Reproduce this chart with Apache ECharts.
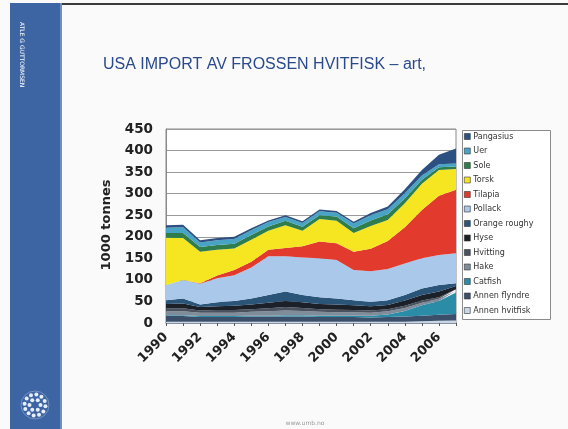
<!DOCTYPE html>
<html>
<head>
<meta charset="utf-8">
<script src="https://cdn.jsdelivr.net/npm/echarts@6/dist/echarts.min.js"></script>
<style>
  html, body { margin: 0; padding: 0; background: #fafafa; }
  #chart { width: 568px; height: 429px; }
</style>
</head>
<body>
<div id="chart"></div>
<script>
// US imports of frozen whitefish by species, 1000 tonnes
const years = ['1990','1991','1992','1993','1994','1995','1996','1997','1998',
               '1999','2000','2001','2002','2003','2004','2005','2006','2007'];

// stacked bottom to top
const annenHvitfisk = [3,3,3,3,3,3,3,3,3,3,3,3,3,3,3,4,5,6];
const annenFlyndre  = [13,13,11,11,11,12,12,12,12,11,11,11,10,11,12,13,14,15];
const catfish       = [2,2,2,2,2,2,2,3,3,3,3,3,4,6,13,24,32,50];
const hake          = [9,9,8,8,8,9,10,11,10,9,8,8,7,7,7,6,5,4];
const hvitting      = [7,7,5,6,6,6,7,8,7,6,6,5,5,5,5,5,4,3];
const hyse          = [10,11,8,9,10,11,13,14,13,12,12,11,10,10,12,13,13,8];
const orangeRoughy  = [9,12,6,9,11,14,18,22,17,16,14,12,10,11,13,15,15,6];
const pollack       = [35,43,48,56,60,72,90,82,87,90,89,70,71,72,73,70,70,70];
const tilapia       = [0,0,1,6,12,13,15,19,26,39,39,42,52,65,84,112,137,147];
const torsk         = [110,97,73,60,50,51,44,53,36,52,52,44,53,49,56,61,60,48];
const sole          = [11,12,11,11,11,11,10,10,9,9,10,11,13,13,11,9,6,6];
const uer           = [12,13,11,11,11,11,10,9,9,9,9,11,12,12,12,10,7,7];
const pangasius     = [6,6,5,5,5,5,4,4,4,4,4,4,5,6,9,13,22,35];

const yTicks = [0, 50, 100, 150, 200, 250, 300, 350, 400, 450];

const layers = [
  { name: 'Annen hvitfisk', data: annenHvitfisk, color: '#c9d6e6' },
  { name: 'Annen flyndre',  data: annenFlyndre,  color: '#3b4f6b' },
  { name: 'Catfish',        data: catfish,       color: '#2b8ca8' },
  { name: 'Hake',           data: hake,          color: '#7f8c99' },
  { name: 'Hvitting',       data: hvitting,      color: '#4a5260' },
  { name: 'Hyse',           data: hyse,          color: '#1c2028' },
  { name: 'Orange roughy',  data: orangeRoughy,  color: '#2a5478' },
  { name: 'Pollack',        data: pollack,       color: '#a9c8ea' },
  { name: 'Tilapia',        data: tilapia,       color: '#e23a2c' },
  { name: 'Torsk',          data: torsk,         color: '#f6e622' },
  { name: 'Sole',           data: sole,          color: '#2f7d4c' },
  { name: 'Uer',            data: uer,           color: '#48a4c4' },
  { name: 'Pangasius',      data: pangasius,     color: '#2d5083' }
];

// UMB logo: cluster of dots
const logoDots = [];
const dotRings = [[0, 0, 1], [5.5, 6, 0], [10.5, 12, 0.25]];
dotRings.forEach(([r, n, off]) => {
  for (let k = 0; k < n; k++) {
    const a = (k + off) / n * Math.PI * 2;
    logoDots.push({
      type: 'circle',
      shape: { cx: 35 + r * Math.cos(a), cy: 405 + r * Math.sin(a), r: r === 0 ? 2.2 : 2 },
      style: { fill: '#e8eef8' }, silent: true
    });
  }
});

const chart = echarts.init(document.getElementById('chart'), null, { renderer: 'canvas' });
chart.setOption({
  backgroundColor: '#fafafa',
  animation: false,
  textStyle: { fontFamily: 'DejaVu Sans' },
  graphic: [
    { type: 'rect', shape: { x: 0, y: 0, width: 568, height: 429 }, style: { fill: '#fafafa' }, z: -10, silent: true },
    { type: 'rect', shape: { x: 10, y: 3, width: 558, height: 2 }, style: { fill: '#3a3a3a' }, silent: true },
    { type: 'rect', shape: { x: 10, y: 3, width: 52, height: 426 }, style: { fill: '#3d64a3' }, silent: true },
    { type: 'rect', shape: { x: 60, y: 3, width: 2, height: 426 }, style: { fill: '#6e8fc2' }, silent: true },
    {
      type: 'text', x: 22, y: 22, rotation: -Math.PI / 2,
      style: { text: 'ATLE G GUTTORMSEN', fill: '#ffffff', font: '6px "DejaVu Sans"', textAlign: 'left', textVerticalAlign: 'middle' },
      silent: true
    },
    { type: 'circle', shape: { cx: 35, cy: 405, r: 14 }, style: { fill: 'none', stroke: 'rgba(220,230,245,0.35)', lineWidth: 1 }, silent: true },
    ...logoDots,
    {
      type: 'text', x: 103, y: 65,
      style: { text: 'USA IMPORT AV FROSSEN HVITFISK – art,', fill: '#2a4a8c', font: '16px "Liberation Sans"', textVerticalAlign: 'middle' },
      silent: true
    },
    {
      type: 'text', x: 107, y: 225, rotation: Math.PI / 2,
      style: { text: '1000 tonnes', fill: '#222', font: 'bold 13px "DejaVu Sans"', textAlign: 'center', textVerticalAlign: 'middle' },
      silent: true
    },
    { type: 'rect', shape: { x: 462.5, y: 130.5, width: 88, height: 189 }, style: { fill: '#ffffff', stroke: '#8a8a8a', lineWidth: 1 }, z: 0, silent: true },
    {
      type: 'text', x: 305, y: 423,
      style: { text: 'www.umb.no', fill: '#999', font: '6px "DejaVu Sans"', textAlign: 'center', textVerticalAlign: 'middle' },
      silent: true
    }
  ],
  legend: {
    orient: 'vertical',
    left: 464, top: 132,
    padding: 0,
    itemWidth: 6, itemHeight: 6, itemGap: 5.5,
    icon: 'rect',
    data: layers.map(l => l.name).reverse(),
    itemStyle: { borderColor: '#333', borderWidth: 0.6 },
    textStyle: { fontSize: 8, color: '#333', lineHeight: 9, padding: [0, 0, 0, -2] },
    z: 5
  },
  grid: {
    left: 166, right: 112, top: 129, bottom: 106,
    show: true, backgroundColor: '#ffffff', borderColor: '#8a8a8a', borderWidth: 1
  },
  xAxis: {
    type: 'category',
    data: years,
    boundaryGap: false,
    axisLine: { lineStyle: { color: '#7f8ea6', width: 1.5 } },
    axisTick: { show: true, interval: 0, length: 3, lineStyle: { color: '#555' } },
    axisLabel: { interval: 1, rotate: 45, fontSize: 13, fontWeight: 'bold', color: '#222', margin: 12 },
    splitLine: { show: false }
  },
  yAxis: {
    type: 'value',
    min: yTicks[0], max: yTicks[yTicks.length - 1], interval: 50,
    axisLine: { show: true, lineStyle: { color: '#8a8a8a' } },
    axisTick: { show: false },
    axisLabel: { fontSize: 13.5, fontWeight: 'bold', color: '#222', margin: 13 },
    splitLine: { show: true, lineStyle: { color: '#9a9a9a', width: 1 } }
  },
  series: layers.map(l => ({
    name: l.name,
    type: 'line',
    stack: 'total',
    data: l.data,
    symbol: 'none',
    lineStyle: { width: 0 },
    itemStyle: { color: l.color },
    areaStyle: { color: l.color, opacity: 1 },
    z: 2
  }))
});
</script>
</body>
</html>
